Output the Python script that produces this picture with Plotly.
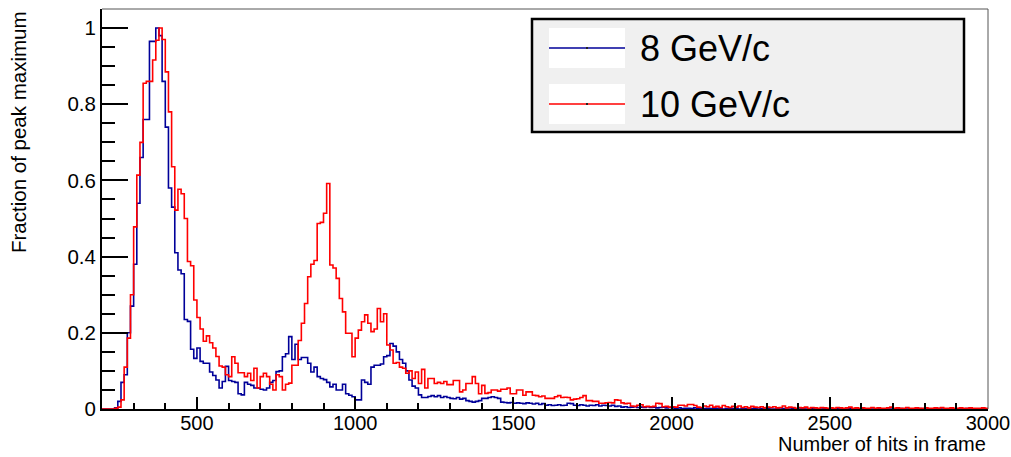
import numpy as np
import plotly.graph_objects as go

# ---------------- data ----------------
BIN_START = 200
BIN_WIDTH = 10

blue_8gev = [
    # 200-290
    0, 0, 0, 0, 0.003, 0.02, 0.07, 0.09, 0.20, 0.27,
    # 300-390
    0.38, 0.54, 0.66, 0.76, 0.76, 0.965, 0.965, 1.0, 0.98, 0.86,
    # 400-490
    0.74, 0.58, 0.53, 0.41, 0.365, 0.355, 0.235, 0.23, 0.157, 0.133,
    # 500-590
    0.16, 0.125, 0.12, 0.12, 0.097, 0.088, 0.076, 0.055, 0.072, 0.112,
    # 600-690
    0.075, 0.072, 0.07, 0.04, 0.037, 0.07, 0.065, 0.062, 0.055, 0.055,
    # 700-790
    0.052, 0.05, 0.055, 0.07, 0.075, 0.098, 0.1, 0.137, 0.145, 0.19,
    # 800-890
    0.13, 0.17, 0.13, 0.135, 0.135, 0.12, 0.097, 0.11, 0.085, 0.08,
    # 900-990
    0.077, 0.07, 0.058, 0.065, 0.05, 0.05, 0.065, 0.04, 0.036, 0.032,
    # 1000-1090
    0.024, 0.024, 0.076, 0.07, 0.065, 0.11, 0.115, 0.115, 0.118, 0.137,
    # 1100-1190
    0.14, 0.172, 0.165, 0.15, 0.13, 0.12, 0.1, 0.076, 0.06, 0.055,
    # 1200-1290
    0.037, 0.03, 0.03, 0.033, 0.035, 0.032, 0.035, 0.03, 0.033, 0.03,
    # 1300-1390
    0.028, 0.027, 0.03, 0.026, 0.028, 0.022, 0.02, 0.018, 0.02, 0.022,
    # 1400-1490
    0.028, 0.028, 0.03, 0.032, 0.03, 0.028, 0.018, 0.017, 0.016, 0.017,
    # 1500-1590
    0.015, 0.016, 0.015, 0.014, 0.016, 0.015, 0.013, 0.015, 0.012, 0.014,
    # 1600-1690
    0.01, 0.011, 0.009, 0.01, 0.011, 0.009, 0.01, 0.015, 0.014, 0.01,
    # 1700-1790
    0.009, 0.011, 0.01, 0.008, 0.01, 0.009, 0.011, 0.008, 0.01, 0.009,
    # 1800-1890
    0.008, 0.01, 0.007, 0.008, 0.005, 0.006, 0.004, 0.005, 0.006, 0.004,
    # 1900-1990
    0.005, 0.004, 0.006, 0.004, 0.005, 0.003, 0.004, 0.005, 0.003, 0.004,
    # 2000-2090
    0.003, 0.002, 0.003, 0.001, 0.002, 0.002, 0.001, 0.003, 0.001, 0.002,
    # 2100-2190
    0.001, 0.002, 0.001, 0.001, 0.002, 0.001, 0, 0.001, 0.002, 0.001,
    # 2200-2290
    0.001, 0, 0.001, 0.001, 0, 0.001, 0.001, 0, 0.001, 0,
    # 2300-2390
    0.001, 0, 0, 0.001, 0, 0.001, 0, 0, 0.001, 0,
    # 2400-2490
    0, 0.001, 0, 0, 0.001, 0, 0, 0, 0.001, 0,
    # 2500-2590
    0, 0, 0.001, 0, 0, 0, 0.001, 0, 0, 0,
    # 2600-2690
    0.001, 0, 0, 0, 0, 0.001, 0, 0, 0, 0,
    # 2700-2790
    0, 0, 0.001, 0, 0, 0, 0, 0, 0.001, 0,
    # 2800-2890
    0, 0, 0, 0, 0.001, 0, 0, 0, 0, 0,
    # 2900-2990
    0, 0, 0, 0.001, 0, 0, 0, 0, 0, 0,
]

red_10gev = [
    # 200-290
    0, 0, 0, 0, 0.002, 0.005, 0.024, 0.11, 0.186, 0.30,
    # 300-390
    0.478, 0.614, 0.70, 0.855, 0.86, 0.86, 0.916, 0.968, 1.0, 0.97,
    # 400-490
    0.885, 0.78, 0.636, 0.522, 0.577, 0.565, 0.50, 0.387, 0.376, 0.286,
    # 500-590
    0.24, 0.21, 0.178, 0.192, 0.174, 0.16, 0.138, 0.113, 0.11, 0.09,
    # 600-690
    0.085, 0.137, 0.12, 0.095, 0.095, 0.085, 0.094, 0.075, 0.107, 0.055,
    # 700-790
    0.085, 0.094, 0.085, 0.065, 0.05, 0.09, 0.085, 0.05, 0.065, 0.068,
    # 800-890
    0.115, 0.115, 0.18, 0.225, 0.277, 0.347, 0.38, 0.39, 0.487, 0.49,
    # 900-990
    0.514, 0.592, 0.378, 0.37, 0.343, 0.29, 0.255, 0.199, 0.199, 0.137,
    # 1000-1090
    0.186, 0.207, 0.229, 0.247, 0.225, 0.203, 0.21, 0.264, 0.229, 0.25,
    # 1100-1190
    0.168, 0.155, 0.12, 0.122, 0.11, 0.107, 0.094, 0.1, 0.08, 0.097,
    # 1200-1290
    0.067, 0.104, 0.055, 0.08, 0.08, 0.067, 0.07, 0.067, 0.072, 0.064,
    # 1300-1390
    0.064, 0.075, 0.075, 0.045, 0.05, 0.067, 0.067, 0.085, 0.067, 0.04,
    # 1400-1490
    0.062, 0.041, 0.043, 0.05, 0.05, 0.047, 0.052, 0.052, 0.055, 0.04,
    # 1500-1590
    0.04, 0.05, 0.05, 0.036, 0.045, 0.045, 0.036, 0.035, 0.032, 0.034,
    # 1600-1690
    0.028, 0.028, 0.028, 0.032, 0.035, 0.03, 0.031, 0.03, 0.024, 0.026,
    # 1700-1790
    0.027, 0.03, 0.035, 0.022, 0.022, 0.02, 0.02, 0.015, 0.015, 0.016,
    # 1800-1890
    0.017, 0.016, 0.024, 0.023, 0.016, 0.014, 0.015, 0.008, 0.007, 0.01,
    # 1900-1990
    0.011, 0.006, 0.007, 0.006, 0.007, 0.015, 0.014, 0.006, 0.007, 0.005,
    # 2000-2090
    0.006, 0.005, 0.01, 0.01, 0.008, 0.012, 0.012, 0.009, 0.005, 0.004,
    # 2100-2190
    0.008, 0.006, 0.01, 0.005, 0.007, 0.004, 0.009, 0.006, 0.004, 0.007,
    # 2200-2290
    0.005, 0.008, 0.004, 0.006, 0.003, 0.007, 0.005, 0.004, 0.006, 0.003,
    # 2300-2390
    0.005, 0.004, 0.006, 0.003, 0.004, 0.008, 0.003, 0.005, 0.004, 0.002,
    # 2400-2490
    0.004, 0.003, 0.005, 0.002, 0.004, 0.003, 0.002, 0.004, 0.003, 0.002,
    # 2500-2590
    0.003, 0.002, 0.004, 0.003, 0.002, 0.003, 0.005, 0.002, 0.003, 0.002,
    # 2600-2690
    0.003, 0.002, 0.002, 0.004, 0.002, 0.003, 0.002, 0.002, 0.003, 0.005,
    # 2700-2790
    0.002, 0.003, 0.002, 0.002, 0.004, 0.002, 0.002, 0.003, 0.002, 0.002,
    # 2800-2890
    0.003, 0.002, 0.002, 0.003, 0.002, 0.004, 0.002, 0.002, 0.003, 0.002,
    # 2900-2990
    0.002, 0.003, 0.002, 0.002, 0.003, 0.002, 0.002, 0.002, 0.003, 0.002,
]

series_names = ["8 GeV/c", "10 GeV/c"]
series_colors = ["#000099", "#ff0000"]
x_tickvals = [500, 1000, 1500, 2000, 2500, 3000]
y_tickvals = [0, 0.2, 0.4, 0.6, 0.8, 1.0]
y_ticktext = ["0", "0.2", "0.4", "0.6", "0.8", "1"]
x_title = "Number of hits in frame"
y_title = "Fraction of peak maximum"

# ---------------- figure ----------------
FONT = "Liberation Sans, Arial, Helvetica, sans-serif"
W, H = 1011, 457
L, R, T, B = 102, 23, 9, 48
PW, PH = W - L - R, H - T - B


def px2x(px):
    return (px - L) / PW


def py2y(py):
    return (H - B - py) / PH


fig = go.Figure()
for vals, name, col in [(blue_8gev, series_names[0], series_colors[0]),
                        (red_10gev, series_names[1], series_colors[1])]:
    edges = BIN_START + BIN_WIDTH * np.arange(len(vals) + 1)
    yv = list(vals) + [vals[-1]]
    fig.add_trace(go.Scatter(x=edges, y=yv, mode="lines", name=name,
                             line=dict(color=col, width=1.6, shape="hv"),
                             hoverinfo="skip"))

axis_common = dict(showgrid=False, zeroline=False, showline=True,
                   linecolor="black", linewidth=2, ticks="inside",
                   tickcolor="black", tickwidth=2, automargin=False)

fig.update_xaxes(range=[BIN_START, 3000], tickvals=x_tickvals,
                 ticklen=12, ticklabelstandoff=-5, **axis_common,
                 tickfont=dict(family=FONT, size=20, color="black"),
                 minor=dict(ticks="inside", ticklen=6, tickwidth=2,
                            tickcolor="black", dtick=100, tick0=0,
                            showgrid=False))
fig.update_yaxes(range=[0, 1.05], tickvals=y_tickvals, ticktext=y_ticktext,
                 ticklen=26, **axis_common,
                 tickfont=dict(family=FONT, size=20.5, color="black"),
                 minor=dict(ticks="inside", ticklen=13, tickwidth=2,
                            tickcolor="black", dtick=0.05, tick0=0,
                            showgrid=False))

shapes = [
    # thin frame top / right
    dict(type="line", xref="paper", yref="paper", x0=0, x1=1, y0=1, y1=1,
         line=dict(color="#555555", width=1)),
    dict(type="line", xref="paper", yref="paper", x0=1, x1=1, y0=0, y1=1,
         line=dict(color="#555555", width=1)),
    # legend box
    dict(type="rect", xref="paper", yref="paper",
         x0=px2x(532), x1=px2x(964), y0=py2y(132), y1=py2y(19),
         fillcolor="#f0f0f0", line=dict(color="black", width=2.5)),
]
legend_rows = [48, 104]
for row, col in zip(legend_rows, series_colors):
    shapes.append(dict(type="rect", xref="paper", yref="paper",
                       x0=px2x(549), x1=px2x(625), y0=py2y(row + 20), y1=py2y(row - 20),
                       fillcolor="white", line=dict(width=0)))
    shapes.append(dict(type="line", xref="paper", yref="paper",
                       x0=px2x(549), x1=px2x(625), y0=py2y(row), y1=py2y(row),
                       line=dict(color=col, width=1.6)))
    shapes.append(dict(type="rect", xref="paper", yref="paper",
                       x0=px2x(586), x1=px2x(588), y0=py2y(row + 1), y1=py2y(row - 1),
                       fillcolor="#222222", line=dict(width=0)))

annotations = []
for row, name in zip(legend_rows, series_names):
    annotations.append(dict(xref="paper", yref="paper", x=px2x(638), y=py2y(row),
                            xanchor="left", yanchor="middle", showarrow=False,
                            text=name, font=dict(family=FONT, size=36, color="black")))
annotations.append(dict(xref="paper", yref="paper", x=1, y=py2y(444),
                        xanchor="right", yanchor="middle", showarrow=False,
                        text=x_title, font=dict(family=FONT, size=20, color="black")))
annotations.append(dict(xref="paper", yref="paper", x=px2x(18), y=py2y(9),
                        xanchor="center", yanchor="top", showarrow=False, textangle=-90,
                        text=y_title, font=dict(family=FONT, size=20.5, color="black")))

fig.update_layout(width=W, height=H, margin=dict(l=L, r=R, t=T, b=B, pad=0,
                                                 autoexpand=False),
                  paper_bgcolor="white", plot_bgcolor="white", showlegend=False,
                  font=dict(family=FONT, size=20.5, color="black"),
                  shapes=shapes, annotations=annotations)

fig.write_html("out.html", config={"displayModeBar": False})
